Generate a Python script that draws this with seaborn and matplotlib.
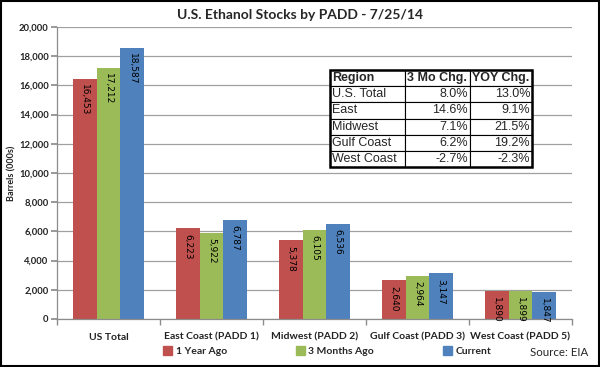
import matplotlib
matplotlib.use("Agg")
import matplotlib.pyplot as plt
import matplotlib.ticker as mticker
from matplotlib.patches import Rectangle
import seaborn as sns
import pandas as pd
import numpy as np

categories = ["US Total", "East Coast (PADD 1)", "Midwest (PADD 2)", "Gulf Coast (PADD 3)", "West Coast (PADD 5)"]
series = ["1 Year Ago", "3 Months Ago", "Current"]
year_ago = [16453, 6223, 5378, 2640, 1890]
three_months_ago = [17212, 5922, 6105, 2964, 1899]
current = [18587, 6787, 6536, 3147, 1847]
colors = ["#C0504D", "#9BBB59", "#4F81BD"]

table_header = ["Region", "3 Mo Chg.", "YOY Chg."]
table_regions = ["U.S. Total", "East", "Midwest", "Gulf Coast", "West Coast"]
table_3mo = ["8.0%", "14.6%", "7.1%", "6.2%", "-2.7%"]
table_yoy = ["13.0%", "9.1%", "21.5%", "19.2%", "-2.3%"]

sns.set_theme(style="white")
plt.rcParams['font.family'] = ['Lato', 'DejaVu Sans']

rows = []
for s, vals in zip(series, [year_ago, three_months_ago, current]):
    for c, v in zip(categories, vals):
        rows.append({"Region": c, "Series": s, "Value": v})
df = pd.DataFrame(rows)

fig = plt.figure(figsize=(6.0, 3.67), dpi=100)
ax = fig.add_axes([57/600, 1-319/367, 515/600, 292/367])

sns.barplot(data=df, x="Region", y="Value", hue="Series", palette=colors,
            saturation=1, width=0.69, gap=0, ax=ax, legend=False, linewidth=0)

ax.set_ylim(0, 20000)
ax.set_xlim(-0.5, len(categories)-0.5)
ax.set_yticks(np.arange(0, 20001, 2000))
ax.yaxis.set_major_formatter(mticker.FuncFormatter(lambda v, p: f"{int(v):,}"))
ax.grid(axis="y", color="#a0a0a0", linewidth=0.9)
ax.set_axisbelow(True)
for sp in ["top", "right"]:
    ax.spines[sp].set_visible(False)
for sp in ["left", "bottom"]:
    ax.spines[sp].set_color("#8c8c8c")
    ax.spines[sp].set_linewidth(0.9)
ax.tick_params(axis="y", labelsize=6.8, colors="#8c8c8c", length=4, direction="out", left=True,
               labelcolor="#222222", pad=2)
ax.tick_params(axis="x", labelsize=7.5, length=0, pad=10, labelcolor="#222222")
ax.set_xticks(np.arange(-0.5, len(categories), 1.0), minor=True)
ax.tick_params(axis="x", which="minor", length=4, color="#8c8c8c", bottom=True)
for lbl in ax.get_xticklabels() + ax.get_yticklabels():
    lbl.set_fontweight("bold")
ax.set_xlabel("")
ax.set_ylabel("")
fig.text(12/600, 1-173/367, "Barrels (000s)", rotation=90, ha="center", va="center",
         fontsize=6.5, fontweight="bold", color="#222222")

for p in ax.patches:
    h = p.get_height()
    if h <= 0:
        continue
    ax.annotate(f"{int(round(h)):,}", (p.get_x() + p.get_width()/2, h),
                xytext=(0, -4), textcoords="offset points", rotation=270,
                ha="center", va="top", fontsize=6.5, family="DejaVu Sans", color="black")

fig.suptitle("U.S. Ethanol Stocks by PADD - 7/25/14", y=1-15/367, va="center",
             fontsize=10, fontweight="bold")

# legend
handles = [Rectangle((0, 0), 1, 1, color=c) for c in colors]
fig.legend(handles, series, loc="center", bbox_to_anchor=(327/600, 1-351/367), ncol=3,
           frameon=False, handlelength=0.9, handleheight=0.9,
           handletextpad=0.3, columnspacing=6.6, prop={"weight": "bold", "size": 7.5})

fig.text(588/600, 1-353/367, "Source: EIA", ha="right", va="center", fontsize=8.3)

# table
cell_text = [[r, a, b] for r, a, b in zip(table_regions, table_3mo, table_yoy)]
tbl = ax.table(cellText=cell_text, colLabels=table_header,
               colWidths=[75/202, 65/202, 62/202], cellLoc="right", colLoc="left",
               bbox=[(330-57)/515, (319-167)/292, 202/515, 97/292], zorder=5)
tbl.auto_set_font_size(False)
for (r, c), cell in tbl.get_celld().items():
    cell.set_edgecolor("black")
    cell.set_linewidth(0.8)
    cell.set_facecolor("white")
    cell.PAD = 0.03
    txt = cell.get_text()
    txt.set_fontsize(9)
    txt.set_family(["Liberation Sans", "DejaVu Sans"])
    if r == 0:
        txt.set_fontweight("bold")
        cell._loc = "left"
        txt.set_ha("left")
    elif c == 0:
        cell._loc = "left"
        txt.set_ha("left")
    else:
        cell._loc = "right"
        txt.set_ha("right")
outer = Rectangle(((330-57)/515, (319-167)/292), 202/515, 97/292, transform=ax.transAxes,
                  fill=False, edgecolor="black", linewidth=1.8, zorder=6, clip_on=False)
ax.add_patch(outer)

fig.patches.append(Rectangle((0.002, 0.003), 0.996, 0.994, transform=fig.transFigure,
                             fill=False, edgecolor="black", linewidth=1.5))

fig.savefig("out.png", dpi=100)
